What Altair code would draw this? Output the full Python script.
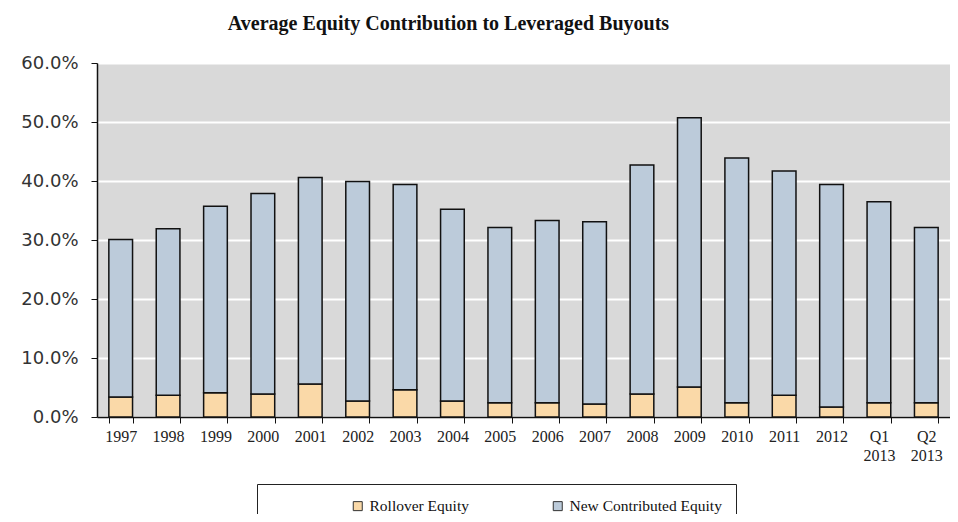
import altair as alt
import pandas as pd

categories = ["1997", "1998", "1999", "2000", "2001", "2002", "2003", "2004", "2005",
              "2006", "2007", "2008", "2009", "2010", "2011", "2012", "Q1 2013", "Q2 2013"]
rollover = [3.4, 3.7, 4.1, 3.9, 5.6, 2.7, 4.6, 2.7, 2.4,
            2.4, 2.2, 3.9, 5.1, 2.4, 3.7, 1.7, 2.4, 2.4]
new_contributed = [26.7, 28.2, 31.6, 34.0, 35.0, 37.2, 34.8, 32.5, 29.7,
                   30.9, 30.9, 38.8, 45.6, 41.5, 38.0, 37.7, 34.1, 29.7]
series = ["Rollover Equity", "New Contributed Equity"]
colors = ["#FAD9A8", "#BCCBDA"]
y_ticks = [0, 10, 20, 30, 40, 50, 60]

rows = []
for i, c in enumerate(categories):
    rows.append({"cat": c, "series": series[0], "value": rollover[i], "ord": 0})
    rows.append({"cat": c, "series": series[1], "value": new_contributed[i], "ord": 1})
df = pd.DataFrame(rows)

chart = alt.Chart(df).mark_bar(stroke="#111111", strokeWidth=1.5).encode(
    x=alt.X("cat:N", sort=categories,
            scale=alt.Scale(paddingInner=0.5, paddingOuter=0.25),
            axis=alt.Axis(title=None, labelAngle=0, tickBand="extent",
                          labelExpr="split(datum.label, ' ')",
                          labelFont="Liberation Serif", labelFontSize=16,
                          labelColor="#222222", labelLineHeight=19,
                          labelPadding=5, tickSize=6, tickColor="#111111",
                          domainColor="#111111", domainWidth=1.5, grid=False)),
    y=alt.Y("value:Q", stack="zero",
            scale=alt.Scale(domain=[0, 60], nice=False),
            axis=alt.Axis(title=None, values=y_ticks,
                          labelExpr="format(datum.value, '.1f') + '%'",
                          labelFont="DejaVu Sans", labelFontSize=18,
                          labelColor="#333333", labelPadding=13,
                          tickSize=6, tickColor="#111111",
                          domainColor="#111111", domainWidth=1.5,
                          grid=True, gridColor="#FFFFFF", gridWidth=2)),
    color=alt.Color("series:N",
                    scale=alt.Scale(domain=series, range=colors),
                    legend=alt.Legend(title=None, orient="none", direction="horizontal",
                                      legendX=160, legendY=421,
                                      strokeColor="#222222", fillColor="#FFFFFF",
                                      padding=14, symbolType="square", symbolSize=81,
                                      symbolStrokeColor="#333333", symbolStrokeWidth=1,
                                      symbolOffset=79, labelOffset=4,
                                      columnPadding=2,
                                      labelFont="Liberation Serif", labelFontSize=15.5,
                                      labelColor="#111111")),
    order=alt.Order("ord:Q"),
).properties(
    width=853,
    height=354,
    background="#FFFFFF",
    autosize=alt.AutoSizeParams(type="none"),
    padding={"left": 89, "top": 55, "right": 0, "bottom": 97},
    title=alt.TitleParams("Average Equity  Contribution  to Leveraged Buyouts",
                          font="Liberation Serif", fontSize=20, fontWeight="bold",
                          color="#111111", anchor="start", dx=207, offset=20),
).configure_view(fill="#D9D9D9", stroke=None)

chart.save("out.html", embed_options={"renderer": "svg", "actions": False})
